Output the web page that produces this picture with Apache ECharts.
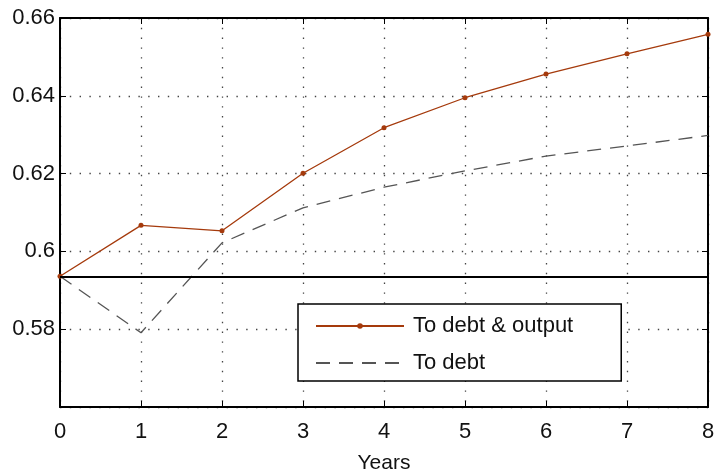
<!DOCTYPE html>
<html>
<head>
<meta charset="utf-8">
<script src="https://cdn.jsdelivr.net/npm/echarts@6/dist/echarts.min.js"></script>
<style>
  html, body { margin: 0; padding: 0; background: #fff; }
  #chart { width: 716px; height: 476px; }
</style>
</head>
<body>
<div id="chart"></div>
<script>
// Years after the shock
const years = [0, 1, 2, 3, 4, 5, 6, 7, 8];
// Ratio path when the shock hits debt and output
const toDebtOutput = [0.5936, 0.6067, 0.6053, 0.6201, 0.6318, 0.6395, 0.6456, 0.6508, 0.6558];
// Ratio path when the shock hits debt only
const toDebt = [0.5936, 0.5791, 0.6022, 0.6112, 0.6165, 0.6207, 0.6245, 0.6271, 0.6298];
// Initial steady-state level
const baseline = 0.5936;
const yTicks = [0.56, 0.58, 0.6, 0.62, 0.64, 0.66];

const FONT = '"Liberation Sans", Arial, sans-serif';
const RED = '#a53a0c';

const pairs = (xs, ys) => xs.map((x, i) => [x, ys[i]]);

const dotted = { color: '#444', width: 1.3, type: [1.4, 8.4] };
const frame = { show: true, onZero: false, lineStyle: { color: '#000', width: 2 } };
const ticksIn = { show: true, inside: true, length: 6, lineStyle: { color: '#000', width: 1 } };

const chart = echarts.init(document.getElementById('chart'), null, { renderer: 'canvas' });
chart.setOption({
  animation: false,
  backgroundColor: '#fff',
  grid: { left: 60, right: 8, top: 18, bottom: 69, containLabel: false, outerBoundsMode: 'none' },
  xAxis: [
    {
      type: 'value', min: 0, max: 8, interval: 1,
      name: 'Years', nameLocation: 'middle', nameGap: 46,
      nameTextStyle: { fontFamily: FONT, fontSize: 21, color: '#111' },
      axisLine: frame, axisTick: ticksIn,
      axisLabel: { fontFamily: FONT, fontSize: 22, color: '#111', margin: 14 },
      splitLine: { show: true, lineStyle: dotted }
    },
    {
      type: 'value', position: 'top', min: 0, max: 8, interval: 1,
      axisLine: frame, axisTick: ticksIn, axisLabel: { show: false }, splitLine: { show: false }
    }
  ],
  yAxis: [
    {
      type: 'value', min: yTicks[0], max: yTicks[yTicks.length - 1], interval: 0.02,
      axisLine: frame, axisTick: ticksIn,
      axisLabel: {
        fontFamily: FONT, fontSize: 22, color: '#111', margin: 5,
        showMinLabel: false,
        formatter: v => (Math.abs(v - yTicks[0]) < 1e-9 ? '' : String(Math.round(v * 100) / 100))
      },
      splitLine: { show: true, lineStyle: dotted }
    },
    {
      type: 'value', position: 'right', min: yTicks[0], max: yTicks[yTicks.length - 1], interval: 0.02,
      axisLine: frame, axisTick: ticksIn, axisLabel: { show: false }, splitLine: { show: false }
    }
  ],
  legend: {
    left: 298, top: 304,
    orient: 'vertical',
    backgroundColor: '#fff',
    borderColor: '#000', borderWidth: 1.5, borderRadius: 0,
    padding: [11, 48, 7, 17],
    itemWidth: 88, itemHeight: 7, itemGap: 15,
    textStyle: { fontFamily: FONT, fontSize: 22, color: '#111', padding: [0, 0, 0, 4] },
    data: [
      { name: 'To debt & output' },
      { name: 'To debt', itemStyle: { opacity: 0 } }
    ]
  },
  series: [
    {
      name: 'To debt & output', type: 'line',
      data: pairs(years, toDebtOutput),
      symbol: 'circle', symbolSize: 5,
      itemStyle: { color: RED },
      lineStyle: { color: RED, width: 1.3 },
      z: 4,
      markLine: {
        silent: true, symbol: 'none', label: { show: false }, precision: 4,
        lineStyle: { color: '#000', width: 2, type: 'solid' },
        data: [{ yAxis: baseline }]
      }
    },
    {
      name: 'To debt', type: 'line',
      data: pairs(years, toDebt),
      symbol: 'none',
      itemStyle: { color: '#555' },
      lineStyle: { color: '#555', width: 1.3, type: [14, 9] },
      z: 3
    }
  ]
});
</script>
</body>
</html>
